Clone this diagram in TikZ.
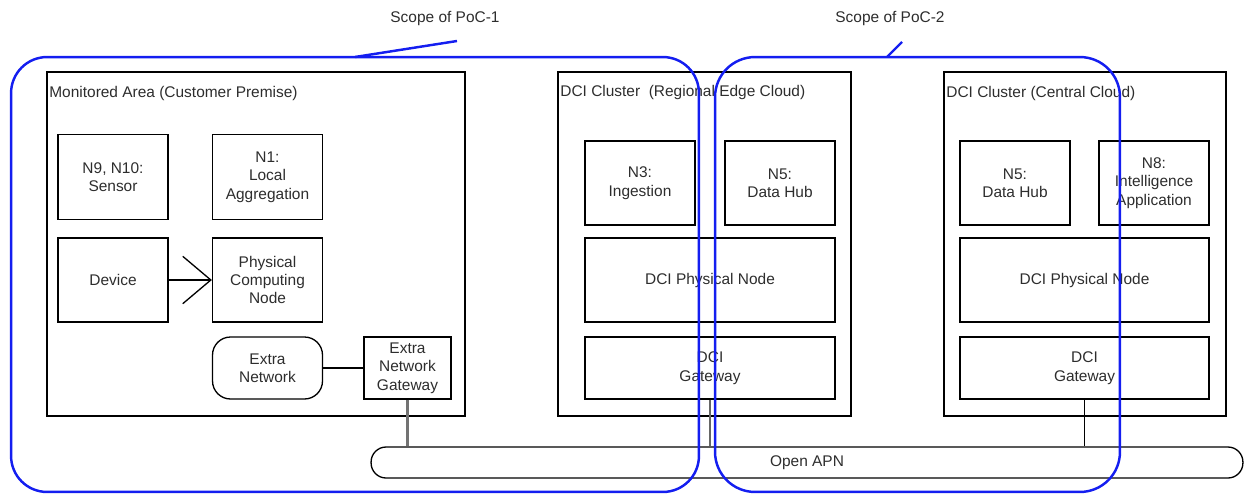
\documentclass[tikz,border=0pt]{standalone}
\usepackage{fontspec}
\setmainfont{Liberation Sans}
\usetikzlibrary{arrows.meta}
\definecolor{scopeblue}{RGB}{20,30,240}
\definecolor{txtgray}{RGB}{45,45,45}
\tikzset{
  box/.style={draw, line width=0.75pt, align=center, text=txtgray, inner sep=0pt,
    font=\fontsize{8.8}{10.5}\selectfont},
  title/.style={anchor=west, inner sep=0pt, text=txtgray, font=\fontsize{8.8}{10.5}\selectfont},
  scope/.style={draw=scopeblue, line width=1.4pt, inner sep=0pt},
  link/.style={line width=0.75pt}
}
\begin{document}
\begin{tikzpicture}[x=0.02cm, y=-0.02cm]
    \useasboundingbox (0,0) rectangle (1245,494);
    \node[box, minimum width=8.36cm, minimum height=6.88cm] (area) at (256,244){};
    \node[title] (areatitle) at (49,93){Monitored Area (Customer Premise)};
    \node[box, minimum width=2.2cm, minimum height=1.7cm] (sensor) at (113,177){N9, N10:\\Sensor};
    \node[box, minimum width=2.2cm, minimum height=1.7cm] (aggr) at (267.5,177){N1:\\Local\\Aggregation};
    \node[box, minimum width=2.2cm, minimum height=1.68cm] (device) at (113,280){Device};
    \node[box, minimum width=2.2cm, minimum height=1.68cm] (pcn) at (267.5,280){Physical\\Computing\\Node};
    \node[box, minimum width=2.2cm, minimum height=1.24cm, rounded corners=0.36cm] (extranet) at (267.5,368){Extra\\Network};
    \node[box, minimum width=1.74cm, minimum height=1.24cm] (extragw) at (407.5,368){Extra\\Network\\Gateway};
    \draw[link, -{Straight Barb[length=16pt, width=27pt]}] (device) -- (pcn);
    \draw[link] (extranet) -- (extragw);
    \node[box, minimum width=5.86cm, minimum height=6.88cm] (regional) at (704.5,244){};
    \node[title] (regionaltitle) at (560,93){DCI Cluster \ (Regional Edge Cloud)};
    \node[box, minimum width=2.2cm, minimum height=1.68cm] (ingest) at (640,183){N3:\\Ingestion};
    \node[box, minimum width=2.2cm, minimum height=1.68cm] (hubedge) at (780,183){N5:\\Data Hub};
    \node[box, minimum width=5cm, minimum height=1.68cm] (pnedge) at (710,280){DCI Physical Node};
    \node[box, minimum width=5cm, minimum height=1.24cm] (gwedge) at (710,368){DCI\\Gateway};
    \node[box, minimum width=5.64cm, minimum height=6.88cm] (central) at (1085,244){};
    \node[title] (centraltitle) at (946,93){DCI Cluster (Central Cloud)};
    \node[box, minimum width=2.2cm, minimum height=1.68cm] (hubcentral) at (1015,183){N5:\\Data Hub};
    \node[box, minimum width=2.2cm, minimum height=1.68cm] (intel) at (1154,183){N8:\\Intelligence\\Application};
    \node[box, minimum width=4.98cm, minimum height=1.68cm] (pncentral) at (1084.5,280){DCI Physical Node};
    \node[box, minimum width=4.98cm, minimum height=1.24cm] (gwcentral) at (1084.5,368){DCI\\Gateway};
    \node[box, minimum width=17.44cm, minimum height=0.62cm, rounded corners=0.3cm] (apn) at (807,462.5){Open APN};
    \draw[line width=1.3pt, black!55] (extragw.south) -- (extragw.south |- apn.north);
    \draw[line width=0.6pt, black!60] (gwedge.south) -- (gwedge.south |- apn.north);
    \draw[line width=0.75pt] (gwcentral.south) -- (gwcentral.south |- apn.north);
    \node[scope, minimum width=13.76cm, minimum height=8.7cm, rounded corners=0.72cm] (poc1) at (355,274.5){};
    \node[scope, minimum width=8.1cm, minimum height=8.7cm, rounded corners=0.8cm] (poc2) at (917.5,274.5){};
    \node[title, anchor=center] (poc1label) at (445,19){Scope of PoC-1};
    \node[title, anchor=center] (poc2label) at (890,19){Scope of PoC-2};
    \coordinate (tip1) at (457,41);
    \coordinate (foot1) at (355,57);
    \coordinate (tip2) at (902,42);
    \coordinate (foot2) at (887,57);
    \draw[scopeblue, line width=1.4pt] (tip1) -- (foot1);
    \draw[scopeblue, line width=1.4pt] (tip2) -- (foot2);
  \end{tikzpicture}
\end{document}
